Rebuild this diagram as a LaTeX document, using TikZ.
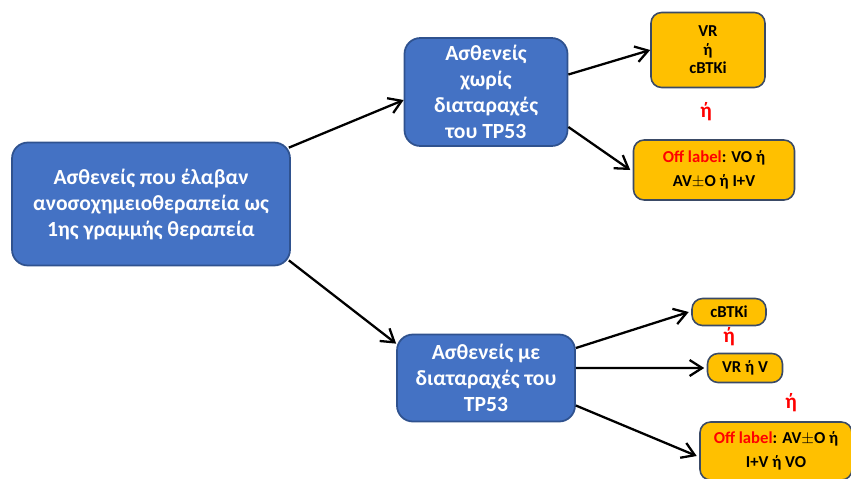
\documentclass[tikz,border=0pt]{standalone}
\usepackage{fontspec}
\setmainfont{Carlito}
\usetikzlibrary{arrows.meta,positioning}
\definecolor{bluefill}{HTML}{4472C4}
\definecolor{blueedge}{HTML}{2F528F}
\definecolor{orangefill}{HTML}{FFC000}
\definecolor{orangeedge}{HTML}{3A4A66}
\tikzset{
  bluebox/.style={rectangle, rounded corners=9pt, draw=blueedge, fill=bluefill, line width=1pt, text=white, align=center, inner sep=2pt, font=\bfseries\fontsize{12.3}{14.8}\selectfont},
  orangebox/.style={rectangle, rounded corners=6pt, draw=orangeedge, fill=orangefill, line width=0.9pt, align=center, inner sep=2pt, font=\bfseries\fontsize{9.5}{14}\selectfont},
  orword/.style={text=red, font=\bfseries\fontsize{12}{14}\selectfont},
  arr/.style={-{Straight Barb[length=2.5mm, width=3.2mm]}, draw=black, line width=1.3pt},
}
\newcommand{\offlbl}{\textcolor{red}{Off label}}

\begin{document}
\begin{tikzpicture}[x=0.02cm, y=-0.02cm]
\useasboundingbox (0,0) rectangle (851,478);
\node[bluebox, minimum width=5.56cm, minimum height=2.46cm] (main) at (151,204) {Ασθενείς που έλαβαν\\ανοσοχημειοθεραπεία ως\\1ης γραμμής θεραπεία};
\node[bluebox, minimum width=3.26cm, minimum height=2.16cm] (notp) at (486,92) {Ασθενείς\\χωρίς\\διαταραχές\\του TP53};
\node[bluebox, minimum width=3.56cm, minimum height=1.74cm] (withtp) at (486,378) {Ασθενείς με\\διαταραχές του\\TP53};
\node[orangebox, minimum width=2.28cm, minimum height=1.5cm, font=\bfseries\fontsize{9.5}{10.6}\selectfont] (vrbtk) at (708,50) {VR\\ή\\cBTKi};
\node[orword] (or1) at (706,112) {ή};
\node[orangebox, minimum width=3.22cm, minimum height=1.2cm] (offa) at (714,170) {\offlbl: VO ή\\AV$\pm$O ή I+V};
\node[orangebox, minimum width=1.48cm, minimum height=0.54cm] (btk) at (729,312) {cBTKi};
\node[orword] (or2) at (729,337) {ή};
\node[orangebox, minimum width=1.5cm, minimum height=0.58cm] (vrv) at (745,368) {VR ή V};
\node[orword] (or3) at (791,403) {ή};
\node[orangebox, minimum width=3.04cm, minimum height=1.16cm] (offb) at (776,451) {\offlbl: AV$\pm$O ή\\I+V ή VO};
\draw[arr] (main.north east)++(-2,6) -- (notp.west|-0,100);
\draw[arr] (main.south east)++(-2,-6) -- ([yshift=-0.2cm]withtp.north west);
\draw[arr] ([yshift=0.35cm]notp.east) -- (vrbtk.west);
\draw[arr] ([yshift=-0.7cm]notp.east) -- ([xshift=-0.05cm]offa.west);
\draw[arr] ([yshift=0.6cm]withtp.east) -- ([xshift=-0.05cm]btk.west);
\draw[arr] ([yshift=0.2cm]withtp.east) -- ([xshift=-0.05cm]vrv.west);
\draw[arr] ([yshift=-0.55cm]withtp.east) -- ([xshift=-0.05cm, yshift=-0.1cm]offb.west);
\end{tikzpicture}
\end{document}
